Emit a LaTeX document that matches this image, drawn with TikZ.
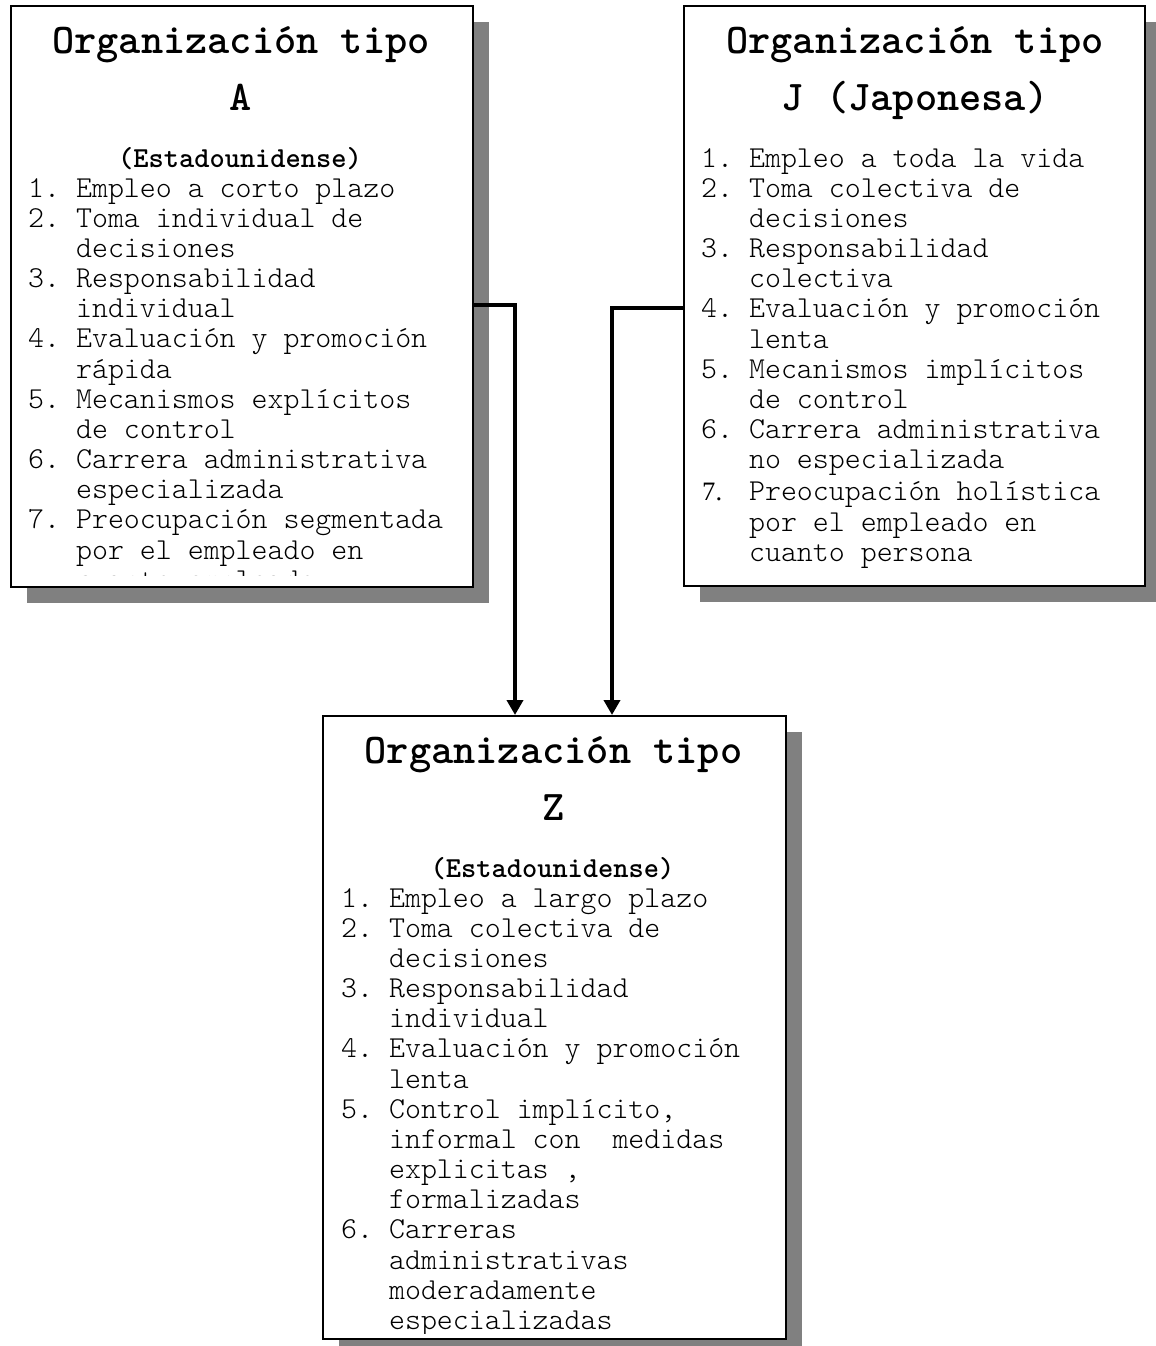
\documentclass[tikz,border=0pt]{standalone}
\usepackage{fontspec}
\setmonofont{lmmonolt10}[Extension=.otf, UprightFont=*-regular, BoldFont=*-bold]
\newfontfamily\serifseven{Liberation Serif}
\usetikzlibrary{shadows,calc,arrows.meta}
\newcommand\tline[5]{\node[bodytxt] (#1) at ({#2},{#3+30.17*(#4)}) {#5};}
\begin{document}
\begin{tikzpicture}[x=1pt,y=-1pt,
  box/.style={draw, line width=2pt, fill=white, inner sep=0pt, anchor=north west,
    drop shadow={shadow xshift=16pt, shadow yshift=-16pt, fill=gray, opacity=1}},
  titletxt/.style={anchor=base, inner sep=0pt, font=\ttfamily\bfseries\fontsize{42.3}{44}\selectfont},
  subtxt/.style={anchor=base, inner sep=0pt, font=\ttfamily\bfseries\fontsize{29}{31}\selectfont},
  bodytxt/.style={anchor=base west, inner sep=0pt, font=\ttfamily\fontsize{30.4}{32}\selectfont\frenchspacing},
  seventxt/.style={anchor=base west, inner sep=0pt, font=\serifseven\fontsize{26.6}{30}\selectfont},
  conn/.style={line width=3.8pt, -{Triangle[width=16pt,length=15pt]}}]
\useasboundingbox (0,0) rectangle (1156,1346);
\fill[white] (0,0) rectangle (1156,1346);

% boxes
\node[box, minimum width=462pt, minimum height=581pt] (A) at (10,5) {};
\node[box, minimum width=461pt, minimum height=580pt] (J) at (683,5) {};
\node[box, minimum width=463pt, minimum height=623pt] (Z) at (322,715) {};

% Box A
\node[titletxt] (At1) at (241,53) {Organización tipo};
\node[titletxt] (At2) at (241,110) {A};
\node[subtxt] (At3) at (240,167) {(Estadounidense)};
\begin{scope}
\clip (A.north west) rectangle ([yshift=13pt]A.south east);
\tline{A0}{28}{197}{0}{1.\ Empleo a corto plazo}
\tline{A1}{28}{197}{1}{2.\ Toma individual de}
\tline{A2}{75.88}{197}{2}{decisiones}
\tline{A3}{28}{197}{3}{3.\ Responsabilidad}
\tline{A4}{75.88}{197}{4}{individual}
\tline{A5}{28}{197}{5}{4.\ Evaluación y promoción}
\tline{A6}{75.88}{197}{6}{rápida}
\tline{A7}{28}{197}{7}{5.\ Mecanismos explícitos}
\tline{A8}{75.88}{197}{8}{de control}
\tline{A9}{28}{197}{9}{6.\ Carrera administrativa}
\tline{A10}{75.88}{197}{10}{especializada}
\tline{A11}{28}{197}{11}{7.\ Preocupación segmentada}
\tline{A12}{75.88}{197}{12}{por el empleado en}
\tline{A13}{75.88}{197}{13}{cuanto empleado}
\end{scope}

% Box J
\node[titletxt] (Jt1) at (915,53) {Organización tipo};
\node[titletxt] (Jt2) at (915,110) {J (Japonesa)};
\tline{J0}{701}{167}{0}{1.\ Empleo a toda la vida}
\tline{J1}{701}{167}{1}{2.\ Toma colectiva de}
\tline{J2}{748.88}{167}{2}{decisiones}
\tline{J3}{701}{167}{3}{3.\ Responsabilidad}
\tline{J4}{748.88}{167}{4}{colectiva}
\tline{J5}{701}{167}{5}{4.\ Evaluación y promoción}
\tline{J6}{748.88}{167}{6}{lenta}
\tline{J7}{701}{167}{7}{5.\ Mecanismos implícitos}
\tline{J8}{748.88}{167}{8}{de control}
\tline{J9}{701}{167}{9}{6.\ Carrera administrativa}
\tline{J10}{748.88}{167}{10}{no especializada}
\node[seventxt] (J11n) at (702,{169+30.17*11}) {7.};
\tline{J11}{748.88}{169}{11}{Preocupación holística}
\tline{J12}{748.88}{169}{12}{por el empleado en}
\tline{J13}{748.88}{169}{13}{cuanto persona}

% Box Z
\node[titletxt] (Zt1) at (553.5,763) {Organización tipo};
\node[titletxt] (Zt2) at (553.5,820) {Z};
\node[subtxt] (Zt3) at (552.5,877) {(Estadounidense)};
\begin{scope}
\clip (Z.north west) rectangle ([yshift=7pt]Z.south east);
\tline{Z0}{341}{907}{0}{1.\ Empleo a largo plazo}
\tline{Z1}{341}{907}{1}{2.\ Toma colectiva de}
\tline{Z2}{388.88}{907}{2}{decisiones}
\tline{Z3}{341}{907}{3}{3.\ Responsabilidad}
\tline{Z4}{388.88}{907}{4}{individual}
\tline{Z5}{341}{907}{5}{4.\ Evaluación y promoción}
\tline{Z6}{388.88}{907}{6}{lenta}
\tline{Z7}{341}{907}{7}{5.\ Control implícito,}
\tline{Z8}{388.88}{907}{8}{informal con\ \ medidas}
\tline{Z9}{388.88}{907}{9}{explicitas ,}
\tline{Z10}{388.88}{907}{10}{formalizadas}
\tline{Z11}{341}{907}{11}{6.\ Carreras}
\tline{Z12}{388.88}{907}{12}{administrativas}
\tline{Z13}{388.88}{907}{13}{moderadamente}
\tline{Z14}{388.88}{907}{14}{especializadas}
\end{scope}

% connectors
\draw[conn] ([yshift=-300pt]A.north east) -| ($(Z.north west)+(193,0)$);
\draw[conn] ([yshift=-303pt]J.north west) -| ($(Z.north west)+(290,0)$);
\end{tikzpicture}
\end{document}
